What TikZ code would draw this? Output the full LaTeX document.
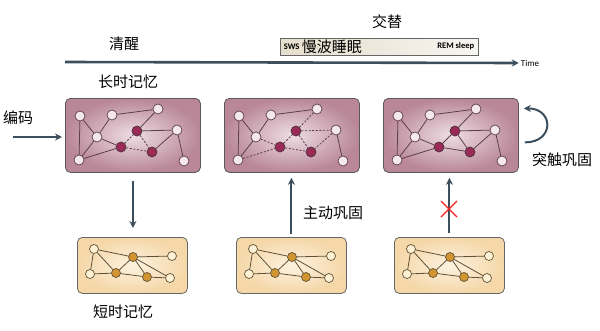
\documentclass[tikz,border=0pt]{standalone}
\usepackage{fontspec}
\setmainfont{Noto Sans CJK SC}
\newfontfamily\latinsans{Carlito}
\usetikzlibrary{positioning,calc,arrows.meta}
\definecolor{axisgray}{HTML}{3D4E5C}
\definecolor{ltmedge}{HTML}{5C4049}
\definecolor{stmedge}{HTML}{5E5238}
\definecolor{ltmin}{HTML}{EEDDE4}
\definecolor{ltmout}{HTML}{B98797}
\definecolor{stmin}{HTML}{FDF2E0}
\definecolor{stmout}{HTML}{F5D7A8}
\definecolor{ltmpale}{HTML}{F4E7ED}
\definecolor{ltmdeep}{HTML}{9B2A56}
\definecolor{stmpale}{HTML}{FFF2D4}
\definecolor{stmdeep}{HTML}{D3952F}
\definecolor{swsleft}{HTML}{E6DECD}
\definecolor{swsright}{HTML}{F7F5F0}

\begin{document}
\begin{tikzpicture}[
    x=1pt,y=-1pt,
    label/.style={font=\fontsize{15}{18}\selectfont,text=black,inner sep=0pt},
    small/.style={font=\latinsans\fontsize{9}{10}\selectfont,inner sep=0pt},
    flow/.style={draw=axisgray,line width=2pt,-{Stealth[length=7pt,width=7pt]}},
    ltmbox/.style={rectangle,rounded corners=5pt,draw=black!65,line width=0.8pt,
                   inner color=ltmin,outer color=ltmout,
                   minimum width=135pt,minimum height=74pt},
    stmbox/.style={rectangle,rounded corners=5pt,draw=black!60,line width=0.8pt,
                   inner color=stmin,outer color=stmout,
                   minimum width=110pt,minimum height=56pt},
    pale/.style={circle,minimum size=10pt,inner sep=0pt,fill=ltmpale,
                 draw=ltmedge,line width=0.7pt},
    deep/.style={circle,minimum size=10pt,inner sep=0pt,fill=ltmdeep,
                 draw=ltmedge!80!black,line width=0.7pt},
    spale/.style={circle,minimum size=9pt,inner sep=0pt,fill=stmpale,
                  draw=stmedge,line width=0.7pt},
    sdeep/.style={circle,minimum size=9pt,inner sep=0pt,fill=stmdeep,
                  draw=stmedge,line width=0.7pt},
    link/.style={draw=ltmedge,line width=0.8pt},
    weak/.style={draw=ltmedge,line width=0.8pt,dash pattern=on 2pt off 1.6pt},
    slink/.style={draw=stmedge,line width=0.8pt}
]
  \useasboundingbox (0,0) rectangle (600,330);

  % Time axis with the sleep phases above it.
  \coordinate (t0) at (65,62);
  \node[small] (time) at (530,63) {Time};
  \draw[flow,line width=2.6pt] (t0) -- ([xshift=-2pt]time.west);
  \node[rectangle,draw=black!60,line width=0.8pt,left color=swsleft,
        right color=swsright,minimum width=198pt,minimum height=17pt,
        inner sep=0pt] (sws) at (379,46.5) {};
  \node[small,font=\latinsans\bfseries\fontsize{8.5}{10}\selectfont,anchor=west]
    (swstag) at ([xshift=4pt]sws.west) {SWS};
  \node[label,anchor=west] (swsname) at ([xshift=2pt]swstag.east) {慢波睡眠};
  \node[small,font=\latinsans\bfseries\fontsize{8.5}{10}\selectfont,anchor=east]
    (rem) at ([xshift=-4pt]sws.east) {REM sleep};
  \node[label] (alt) at (387,22) {交替};
  \node[label] (wake) at (124,44) {清醒};
  \node[label] (ltmname) at (128,82) {长时记忆};

  % Long-term networks: same layout in each of the three panels.
  \foreach \b/\x in {1/65,2/224,3/383} {
    \node[ltmbox,anchor=north west] (ltm\b) at (\x,98) {};
    \begin{scope}[shift={(\x,98)}]
      \foreach \n/\p in {A/{15,18},B/{47,17},C/{93,11},D/{32,39},F/{112,32},
                         I/{14,62},J/{119,63}}
        \node[pale] (t\b\n) at (\p) {};
      \foreach \n/\p in {E/{72,33},G/{56,49},H/{87,54}}
        \node[deep] (t\b\n) at (\p) {};
    \end{scope}
    \foreach \u/\v in {A/I,A/D,D/I,B/D,B/C,F/J}
      \draw[link] (t\b\u) -- (t\b\v);
  }
  \foreach \b in {1,3}
    \foreach \u/\v in {C/E,E/F,F/H,D/G,I/G}
      \draw[link] (t\b\u) -- (t\b\v);
  \foreach \u/\v in {G/E,E/H,G/H}
    \draw[weak] (t1\u) -- (t1\v);
  \foreach \u/\v in {C/E,E/F,F/H,D/G,I/G,G/E,E/H,G/H}
    \draw[weak] (t2\u) -- (t2\v);
  \foreach \u/\v in {G/E,E/H,G/H}
    \draw[link] (t3\u) -- (t3\v);

  % Short-term networks.
  \foreach \b/\x in {1/77,2/236,3/394} {
    \node[stmbox,anchor=north west] (stm\b) at (\x,237) {};
    \begin{scope}[shift={(\x,237)}]
      \foreach \n/\p in {a/{17,12},c/{95,19},d/{13,37},g/{93,41}}
        \node[spale] (s\b\n) at (\p) {};
      \foreach \n/\p in {b/{56,20},e/{39,36},f/{70,40}}
        \node[sdeep] (s\b\n) at (\p) {};
    \end{scope}
    \foreach \u/\v in {a/d,a/e,a/b,b/c,b/e,b/f,b/g,d/e,e/f,f/g}
      \draw[slink] (s\b\u) -- (s\b\v);
  }
  \node[label] (stmname) at (123,312) {短时记忆};

  % Transfers between the stores.
  \coordinate (enc) at (13,137);
  \node[label] (encname) at (18,118) {编码};
  \draw[flow,shorten >=3pt] (enc) -- (ltm1.west |- enc);
  \draw[flow,shorten <=8pt,shorten >=9pt] (ltm1.south) -- (ltm1.south |- stm1.north);
  \draw[flow,shorten <=3pt,shorten >=5pt] (stm2.north) -- (stm2.north |- ltm2.south);
  \draw[flow,shorten <=4pt,shorten >=5pt] (stm3.north) -- (stm3.north |- ltm3.south);
  \node[label,anchor=west] (active) at (303,213) {主动巩固};

  % Blocked transfer in the third panel.
  \coordinate (block) at (449,209);
  \draw[red!85!pink,line width=1.1pt] ($(block)+(-8,-8)$) -- ($(block)+(8,8)$)
    ($(block)+(-8,8)$) -- ($(block)+(8,-8)$);

  % Synaptic consolidation loop.
  \draw[flow] ([xshift=6pt,yshift=-7pt]ltm3.east) .. controls +(30,0) and +(30,0)
    .. ([xshift=5pt,yshift=27pt]ltm3.east);
  \node[label] (synaptic) at (562,160) {突触巩固};
\end{tikzpicture}
\end{document}
